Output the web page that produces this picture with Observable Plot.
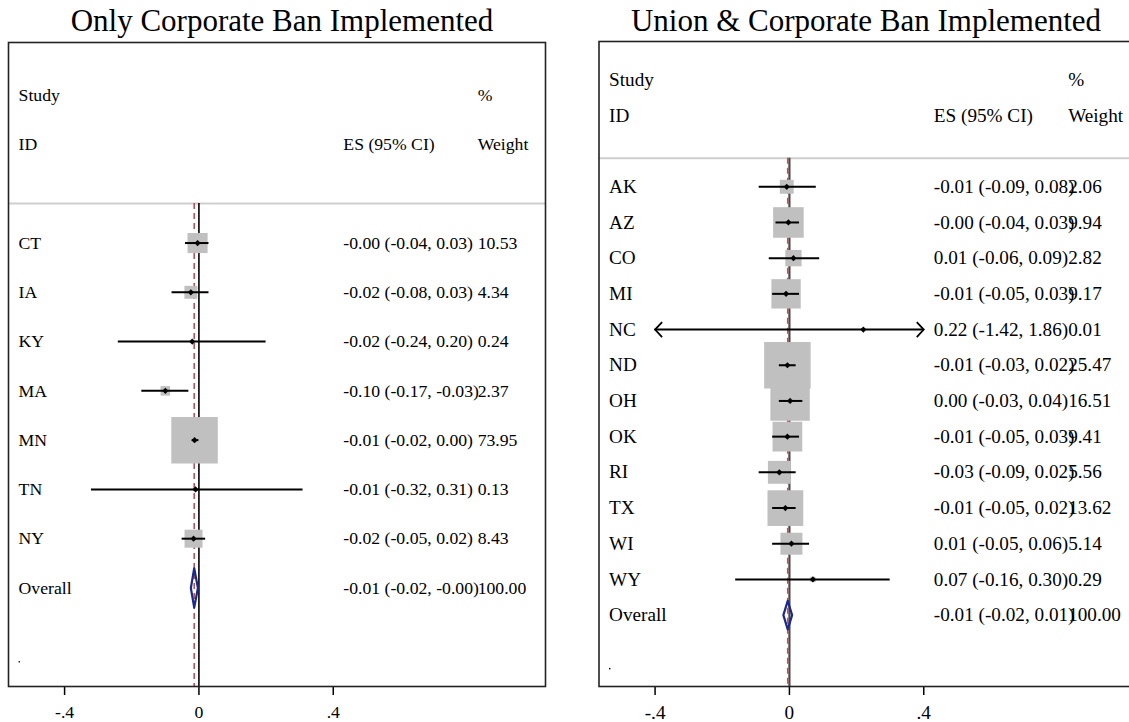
<!DOCTYPE html>
<html><head><meta charset="utf-8">
<script src="https://cdn.jsdelivr.net/npm/d3@7"></script>
<script src="https://cdn.jsdelivr.net/npm/@observablehq/plot@0.6"></script>
<style>
html,body{margin:0;padding:0;background:#fff;}
#wrap{position:relative;width:1129px;height:722px;overflow:hidden;font-family:"Liberation Serif","Times New Roman",serif;color:#000;}
.title{position:absolute;top:5px;font-size:31px;line-height:31px;white-space:nowrap;transform:translateX(-50%);}
.panel{position:absolute;top:0;width:560px;height:722px;}
</style></head><body>
<div id="wrap">
<div class="title" id="t1" style="left:282px"></div>
<div class="title" id="t2" style="left:866px"></div>
<div class="panel" id="p1" style="left:0"></div>
<div class="panel" id="p2" style="left:590px"></div>
</div>
<script>
// ---- data ----
const panelTitles = ["Only Corporate Ban Implemented", "Union & Corporate Ban Implemented"];

const leftStates = ["CT", "IA", "KY", "MA", "MN", "TN", "NY"];
const leftES     = [-0.004, -0.024, -0.020, -0.100, -0.013, -0.010, -0.016];
const leftLo     = [-0.04, -0.08, -0.24, -0.17, -0.02, -0.32, -0.05];
const leftHi     = [0.03, 0.03, 0.20, -0.03, 0.00, 0.31, 0.02];
const leftWeight = [10.53, 4.34, 0.24, 2.37, 73.95, 0.13, 8.43];
const leftOverall = [-0.014, -0.024, -0.003, 100.00]; // es, lo, hi, weight

const rightStates = ["AK", "AZ", "CO", "MI", "NC", "ND", "OH", "OK", "RI", "TX", "WI", "WY"];
const rightES     = [-0.008, -0.003, 0.012, -0.010, 0.22, -0.006, 0.002, -0.006, -0.030, -0.012, 0.006, 0.07];
const rightLo     = [-0.09, -0.04, -0.06, -0.05, -1.42, -0.03, -0.03, -0.05, -0.09, -0.05, -0.05, -0.16];
const rightHi     = [0.08, 0.03, 0.09, 0.03, 1.86, 0.02, 0.04, 0.03, 0.02, 0.02, 0.06, 0.30];
const rightWeight = [2.06, 9.94, 2.82, 9.17, 0.01, 25.47, 16.51, 9.41, 5.56, 13.62, 5.14, 0.29];
const rightOverall = [-0.005, -0.018, 0.008, 100.00];

const headerLabel = ["Study", "ID"];
const headerES = "ES (95% CI)";
const headerWeight = ["%", "Weight"];
const overallLabel = "Overall";
const tickValues = [-0.4, 0, 0.4];
const tickLabels = ["-.4", "0", ".4"];

// ---- drawing ----
const axisMin = -0.4, axisMax = 0.4;
const chevronLeft = {draw(ctx) { ctx.moveTo(7, -7.5); ctx.lineTo(0, 0); ctx.lineTo(7, 7.5); }};
const chevronRight = {draw(ctx) { ctx.moveTo(-7, -7.5); ctx.lineTo(0, 0); ctx.lineTo(-7, 7.5); }};
const fmt = v => v.toFixed(2);

function forest({states, es, lo, hi, weight, overall, fontSize, boxK, marginLeft, marginTop, zeroStroke, zeroWidth}) {
  const n = states.length;
  const rows = states.map((s, i) => ({label: s, i, es: es[i], lo: lo[i], hi: hi[i], w: weight[i],
    clo: Math.max(lo[i], axisMin), chi: Math.min(hi[i], axisMax)}));
  const ov = {label: overallLabel, i: n, es: overall[0], lo: overall[1], hi: overall[2], w: overall[3]};
  const textRows = [...rows, ov];
  const dia = [[ov.lo, n], [ov.es, n - 0.4], [ov.hi, n], [ov.es, n + 0.4], [ov.lo, n]];
  const sepY = -0.8, top = -4.07, bottom = n + 2;
  const xLabel = -0.537, xES = 0.43, xW = 0.83;
  const headers = [
    {t: headerLabel[0], x: xLabel, y: -3}, {t: headerLabel[1], x: xLabel, y: -2},
    {t: headerES, x: xES, y: -2},
    {t: headerWeight[0], x: xW, y: -3}, {t: headerWeight[1], x: xW, y: -2}
  ];
  return Plot.plot({
    width: 560, height: 722,
    marginLeft, marginRight: 560 - marginLeft - 537, marginTop, marginBottom: 36,
    x: {domain: [-0.567, 1.032], axis: null},
    y: {domain: [bottom, top], axis: null},
    r: {type: "identity"},
    style: {fontFamily: "'Liberation Serif', 'Times New Roman', serif", fontSize: fontSize + "px", background: "transparent", color: "#000"},
    marks: [
      Plot.ruleY([sepY], {stroke: "#cfcfcf", strokeWidth: 2}),
      Plot.ruleX([0], {y1: sepY, y2: bottom, stroke: zeroStroke, strokeWidth: zeroWidth}),
      Plot.ruleX([ov.es], {y1: sepY, y2: bottom, stroke: "#b4545e", strokeWidth: 1.6, strokeDasharray: "6,4"}),
      Plot.dot(rows, {x: "es", y: "i", symbol: "square", r: d => Math.min(boxK * Math.sqrt(d.w), 46.5) / Math.sqrt(Math.PI), fill: "#c0c0c0"}),
      Plot.ruleY(rows, {x1: "clo", x2: "chi", y: "i", stroke: "#000", strokeWidth: 2}),
      Plot.dot(rows.filter(d => d.lo < axisMin), {x: "clo", y: "i", symbol: chevronLeft, fill: "none", stroke: "#000", strokeWidth: 1.8}),
      Plot.dot(rows.filter(d => d.hi > axisMax), {x: "chi", y: "i", symbol: chevronRight, fill: "none", stroke: "#000", strokeWidth: 1.8}),
      Plot.dot(rows, {x: "es", y: "i", symbol: "diamond2", r: 2.8, fill: "#000"}),
      Plot.line(dia, {stroke: "#1b2a8a", strokeWidth: 2.2}),
      Plot.text(headers, {x: "x", y: "y", text: "t", textAnchor: "start", fill: "#000"}),
      Plot.text(textRows, {x: xLabel, y: "i", text: "label", textAnchor: "start", fill: "#000"}),
      Plot.text(textRows, {x: xES, y: "i", text: d => `${fmt(d.es)} (${fmt(d.lo)}, ${fmt(d.hi)})`, textAnchor: "start", fill: "#000"}),
      Plot.text(textRows, {x: xW, y: "i", text: d => fmt(d.w), textAnchor: "start", fill: "#000"}),
      Plot.dot([n + 1.5], {x: xLabel + 0.002, y: d => d, r: 0.8, fill: "#000"}),
      Plot.axisX({ticks: tickValues, tickFormat: d => tickLabels[tickValues.indexOf(d)], tickSize: 9, tickPadding: 10, strokeWidth: 1.5, anchor: "bottom"}),
      Plot.frame({stroke: "#222", strokeWidth: 1.6})
    ]
  });
}

document.getElementById("t1").textContent = panelTitles[0];
document.getElementById("t2").textContent = panelTitles[1];
document.getElementById("p1").append(forest({
  states: leftStates, es: leftES, lo: leftLo, hi: leftHi, weight: leftWeight, overall: leftOverall,
  fontSize: 17.7, boxK: 6.2, marginLeft: 8, marginTop: 42, zeroStroke: "#000", zeroWidth: 1.6
}));
document.getElementById("p2").append(forest({
  states: rightStates, es: rightES, lo: rightLo, hi: rightHi, weight: rightWeight, overall: rightOverall,
  fontSize: 19.2, boxK: 9.7, marginLeft: 8.5, marginTop: 41, zeroStroke: "#4a4a4a", zeroWidth: 2.2
}));
</script>
</body></html>
